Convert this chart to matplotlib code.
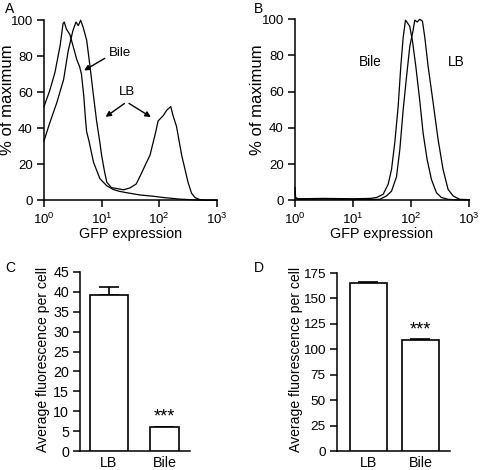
import numpy as np
import matplotlib
matplotlib.use("Agg")
import matplotlib.pyplot as plt

plt.rcParams['font.family'] = ['Liberation Sans', 'DejaVu Sans']
plt.rcParams['mathtext.fontset'] = 'custom'
plt.rcParams['mathtext.rm'] = 'Liberation Sans'
plt.rcParams['font.size'] = 9.5

# panel A histograms (log10 of GFP, % of maximum)
a_bile_log = [0.0, 0.1, 0.19, 0.28, 0.33, 0.35, 0.39, 0.45, 0.51, 0.57, 0.62, 0.65, 0.69, 0.72, 0.74,
              0.78, 0.86, 0.97, 1.09, 1.2, 1.3, 1.43, 1.67, 1.9, 2.07, 2.36, 2.6, 2.8, 3.0]
a_bile_pct = [52, 61, 71, 86, 98, 99, 95, 92, 85, 78, 74, 70, 58, 45, 38,
              33, 21, 12, 8, 6, 5, 4.2, 2.9, 2.2, 1.5, 0.6, 0.2, 0, 0]
a_lb_log = [0.0, 0.1, 0.22, 0.34, 0.42, 0.5, 0.555, 0.595, 0.636, 0.68, 0.74, 0.8, 0.855, 0.913, 0.97,
            1.0, 1.05, 1.09, 1.17, 1.26, 1.38, 1.49, 1.6, 1.67, 1.75, 1.84, 1.94, 1.98, 2.07, 2.13,
            2.2, 2.24, 2.3, 2.39, 2.5, 2.56, 2.62, 2.7, 2.82, 3.0]
a_lb_pct = [33, 43, 54, 67, 83, 94, 99, 97, 100, 96, 89, 74, 59, 44, 32,
            25, 16, 10, 7, 6.5, 5.8, 6.8, 9, 13.5, 19, 25, 38, 44, 47, 50,
            52, 47, 41, 25, 10, 4, 1.5, 0.4, 0, 0]

# panel B histograms
b_bile_log = [0.0, 0.01, 0.05, 0.5, 1.0, 1.3, 1.406, 1.52, 1.606, 1.664, 1.721, 1.779, 1.824, 1.865,
              1.905, 1.939, 1.979, 2.025, 2.083, 2.151, 2.209, 2.278, 2.352, 2.438, 2.524, 2.639, 2.8, 3.0]
b_bile_pct = [7, 1.5, 0.8, 1.0, 0.8, 1.0, 1.5, 3.3, 8.8, 17, 32, 52, 74, 90,
              99.5, 98, 96, 88, 74, 55, 37, 22.5, 11.5, 4.2, 1.5, 0.5, 0.2, 0.2]
b_lb_log = [0.0, 0.01, 0.05, 0.5, 1.0, 1.3, 1.463, 1.578, 1.664, 1.75, 1.807, 1.865, 1.922, 1.979,
            2.037, 2.065, 2.106, 2.151, 2.197, 2.238, 2.295, 2.381, 2.467, 2.553, 2.639, 2.725, 2.84, 3.0]
b_lb_pct = [5, 1, 0.5, 0.6, 0.5, 0.4, 0.5, 2.4, 5, 13, 28, 50, 68, 85,
            94, 99.5, 98.5, 100, 99, 90, 74, 54, 33.5, 17, 6, 2.4, 0.5, 0.3]

# bar panels
groups = ["LB", "Bile"]
c_mean = [39.3, 6.0]
c_err = [2.0, 0.15]
d_mean = [165.0, 109.0]
d_err = [0.8, 1.0]

fig = plt.figure(figsize=(4.8, 4.7), dpi=100)


def style(ax, size):
    for s in ['top', 'right']:
        ax.spines[s].set_visible(False)
    for s in ['left', 'bottom']:
        ax.spines[s].set_linewidth(1.1)
    ax.tick_params(direction='out', length=5, width=1.1, pad=3, labelsize=size)


def hist_panel(rect, curves, label_x):
    ax = fig.add_axes(rect)
    for lg, pc in curves:
        ax.plot(np.power(10.0, lg), pc, color='black', lw=0.9, clip_on=False)
    ax.set_xscale('log')
    ax.set_xlim(1, 1000)
    ax.set_ylim(0, 100)
    ax.set_yticks([0, 20, 40, 60, 80, 100])
    ax.xaxis.set_minor_locator(matplotlib.ticker.NullLocator())
    ax.set_xlabel("GFP expression", fontsize=10.4, labelpad=0)
    ax.set_ylabel("% of maximum", fontsize=12)
    ax.yaxis.set_label_coords(label_x, 0.556)
    style(ax, 9.5)
    return ax


axA = hist_panel([0.0917, 0.574, 0.360, 0.383], [(a_bile_log, a_bile_pct), (a_lb_log, a_lb_pct)], -0.168)
axA.text(20.8, 82, "Bile", ha='center', va='center', fontsize=9.5)
axA.annotate("", xy=(4.5, 71.3), xytext=(12.5, 79.6),
             arrowprops=dict(arrowstyle='-|>', color='black', lw=1, mutation_scale=8))
axA.text(27.2, 60.2, "LB", ha='center', va='center', fontsize=9.5)
for tip in [10.7, 78.7]:
    axA.annotate("", xy=(tip, 45.4), xytext=(27.2, 54.6),
                 arrowprops=dict(arrowstyle='-|>', color='black', lw=1, mutation_scale=8))

axB = hist_panel([0.6146, 0.574, 0.3625, 0.385], [(b_bile_log, b_bile_pct), (b_lb_log, b_lb_pct)], -0.172)
axB.text(19.5, 76.5, "Bile", ha='center', va='center', fontsize=9.8)
axB.text(607, 76.5, "LB", ha='center', va='center', fontsize=9.8)


def bar_panel(rect, means, errs, widths, xlim, ylim, ticks, star_y, label_x, tick_size):
    ax = fig.add_axes(rect)
    x = np.arange(len(groups))
    ax.bar(x, means, width=widths, color='white', edgecolor='black', linewidth=1.2, zorder=3)
    ax.errorbar(x, means, yerr=[[0] * len(errs), errs], fmt='none', ecolor='black',
                elinewidth=1.2, capsize=7.5, capthick=1.2, zorder=2)
    ax.set_xlim(*xlim)
    ax.set_ylim(*ylim)
    ax.set_yticks(ticks)
    ax.set_xticks(x)
    ax.set_xticklabels(groups)
    ax.set_ylabel("Average fluorescence per cell", fontsize=10.1)
    ax.yaxis.set_label_coords(label_x, 0.513)
    ax.text(1, star_y, "***", ha='center', va='center', fontsize=13)
    style(ax, tick_size)
    ax.tick_params(axis='x', length=0, pad=3.5, labelsize=10.3)
    return ax


bar_panel([0.1667, 0.0404, 0.229, 0.381], c_mean, c_err, [0.685, 0.523],
          (-0.523, 1.459), (0, 45), range(0, 46, 5), 8.6, -0.273, 10.3)
bar_panel([0.702, 0.0404, 0.2354, 0.3787], d_mean, d_err, [0.71, 0.71],
          (-0.606, 1.567), (0, 175), range(0, 176, 25), 119, -0.30, 9.7)

for lbl, (px, py) in zip("ABCD", [(5, 9), (254, 9), (5, 268), (254, 268)]):
    fig.text(px / 480, 1 - py / 470, lbl, ha='left', va='center', fontsize=10)

fig.savefig("out.png", dpi=100)
